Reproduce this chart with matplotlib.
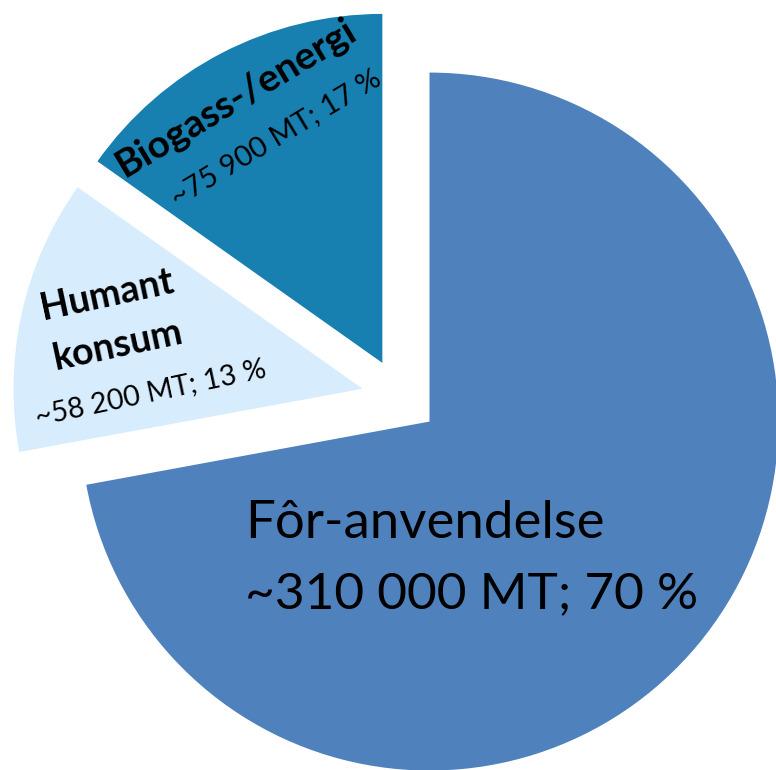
import matplotlib
matplotlib.use('Agg')
import matplotlib.pyplot as plt

plt.rcParams['font.family'] = ['Lato', 'DejaVu Sans']

# slice shares as drawn (angles), labels as written on the chart
categories = ['Fôr-anvendelse', 'Humant konsum', 'Biogass-/energi']
shares = [72.1, 12.7, 15.2]
amounts = ['~310 000 MT; 70 %', '~58 200 MT; 13 %', '~75 900 MT; 17 %']
colors = ['#4F81BD', '#D7ECFC', '#1780B0']

W, H = 776, 770
fig = plt.figure(figsize=(W / 100, H / 100), dpi=100)
ax = fig.add_axes([0, 0, 1, 1])

ax.pie(shares, explode=[0.11, 0.11, 0.11], startangle=90, counterclock=False,
       colors=colors, radius=1, wedgeprops=dict(linewidth=0))
ax.set_aspect('auto')
r_px = 349.0
cx, cy = 400.0, 397.0
ax.set_xlim(-cx / r_px, (W - cx) / r_px)
ax.set_ylim((cy - H) / r_px, cy / r_px)
ax.axis('off')


def px(x, y):
    return x / W, 1 - y / H


# big slice
fig.text(*px(245, 538), categories[0], fontsize=38, ha='left', va='baseline')
fig.text(*px(245, 608), amounts[0], fontsize=37, ha='left', va='baseline')

# human consumption
rot_h = 12
fig.text(*px(109, 306), 'Humant', fontsize=27, fontweight='bold', rotation=rot_h,
         rotation_mode='anchor', ha='center', va='baseline')
fig.text(*px(120, 356), 'konsum', fontsize=27, fontweight='bold', rotation=rot_h,
         rotation_mode='anchor', ha='center', va='baseline')
fig.text(*px(152, 401), amounts[1], fontsize=20.5, rotation=rot_h,
         rotation_mode='anchor', ha='center', va='baseline')

# biogas / energy
rot_b = 31
fig.text(*px(242, 107), categories[2], fontsize=28, fontweight='bold', rotation=rot_b,
         rotation_mode='anchor', ha='center', va='baseline')
fig.text(*px(280, 145), amounts[2], fontsize=21, rotation=rot_b,
         rotation_mode='anchor', ha='center', va='baseline')

fig.savefig('out.png', dpi=100)
